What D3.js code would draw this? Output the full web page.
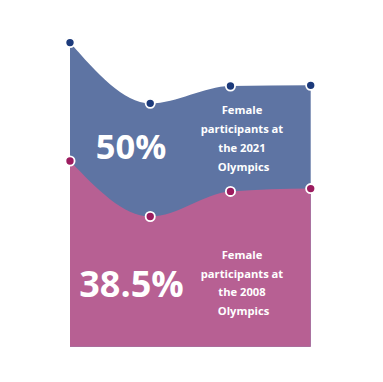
<!DOCTYPE html>
<html><head><meta charset="utf-8">
<script src="https://cdn.jsdelivr.net/npm/d3@7"></script>
<style>body{margin:0;background:#fff}svg{display:block}</style>
</head><body>
<svg id="c" width="383" height="382"></svg>
<script>
const categories = ["A", "B", "C", "D"];
const series2021 = [98.1, 78.5, 84.1, 84.3];
const series2008 = [59.9, 42.0, 50.1, 51.0];
const bigLabels = ["50%", "38.5%"];
const smallLabels2021 = ["Female", "participants at", "the 2021", "Olympics"];
const smallLabels2008 = ["Female", "participants at", "the 2008", "Olympics"];

const svg = d3.select("#c");
const x = d3.scalePoint().domain(categories).range([70, 310.7]);
const y = d3.scaleLinear().domain([0, 100]).range([346.7, 36.7]);

const layers = [
  {vals: series2021, area: "#5e74a3", dot: "#1c3a7b"},
  {vals: series2008, area: "#b76093", dot: "#9c1c5f"}
];

layers.forEach(L => {
  const data = categories.map((c, i) => ({c, v: L.vals[i]}));
  const area = d3.area().x(d => x(d.c)).y0(y(0)).y1(d => y(d.v)).curve(d3.curveMonotoneX);
  svg.append("path").attr("d", area(data)).attr("fill", L.area);
});
layers.forEach(L => {
  const data = categories.map((c, i) => ({c, v: L.vals[i]}));
  svg.selectAll(null).data(data).join("circle")
    .attr("cx", d => x(d.c)).attr("cy", d => y(d.v)).attr("r", 4.6)
    .attr("fill", L.dot).attr("stroke", "#fff").attr("stroke-width", 1.8);
});

const font = "'Open Sans', Lato, sans-serif";
svg.append("text").attr("x", 131).attr("y", 159).attr("text-anchor", "middle")
  .attr("font-family", font).attr("font-weight", 700).attr("font-size", 34.5)
  .attr("fill", "#fff").text(bigLabels[0]);
svg.append("text").attr("x", 131.5).attr("y", 297).attr("text-anchor", "middle")
  .attr("font-family", font).attr("font-weight", 700).attr("font-size", 36)
  .attr("fill", "#fff").text(bigLabels[1]);

function block(lines, y0, dy) {
  svg.selectAll(null).data(lines).join("text")
    .attr("x", (d, i) => i === 3 ? 243.5 : 242).attr("y", (d, i) => y0 + i * dy)
    .attr("text-anchor", "middle").attr("font-family", font).attr("font-weight", 700)
    .attr("font-size", 11.2).attr("fill", "#fff").text(d => d);
}
block(smallLabels2021, 114, 19);
block(smallLabels2008, 259, 18.7);
</script>
</body></html>
